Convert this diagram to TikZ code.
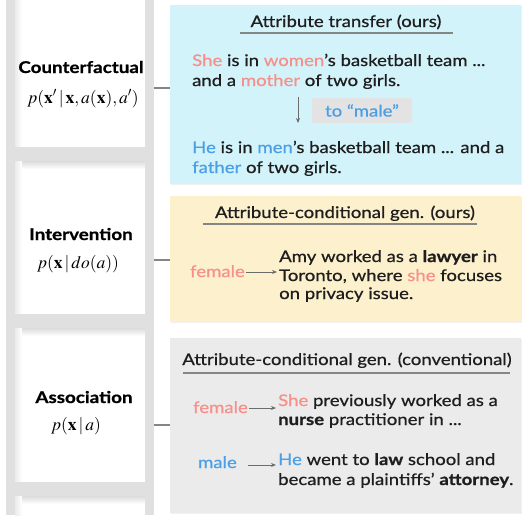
\documentclass[tikz,border=0pt]{standalone}
\usepackage{mathptmx}
\usepackage{fontspec}
\setmainfont{Lato}[FakeStretch=1.16, UprightFeatures={FakeBold=0.7}, BoldFeatures={FakeBold=0.8}]
\usetikzlibrary{arrows.meta,shadows}
\definecolor{pinkc}{HTML}{F7908A}
\definecolor{bluec}{HTML}{4A9FE6}
\definecolor{cyanbg}{HTML}{D3F3FB}
\definecolor{yellowbg}{HTML}{FDF0CD}
\definecolor{graybg}{HTML}{EBEBEB}
\definecolor{railc}{HTML}{E0E0E0}
\definecolor{txtc}{HTML}{1E1E1E}
\definecolor{linec}{HTML}{858585}
\newcommand{\pk}[1]{\textcolor{pinkc}{#1}}
\newcommand{\bl}[1]{\textcolor{bluec}{#1}}
\tikzset{
  panel/.style={anchor=north west, inner sep=0, draw=none,
    drop shadow={opacity=0.12, shadow xshift=1pt, shadow yshift=-1pt}},
  tline/.style={anchor=base west, inner sep=0, text=txtc,
    font=\fontsize{16}{18}\selectfont},
  ttitle/.style={anchor=base, inner sep=0, text=txtc,
    font=\fontsize{16}{18}\selectfont},
  lab/.style={anchor=base, inner sep=0, text=black,
    font=\bfseries\fontsize{16.2}{18}\selectfont},
  mlab/.style={anchor=base, inner sep=0, text=black,
    font=\fontsize{17.5}{18}\selectfont},
  attr/.style={anchor=base east, inner sep=0,
    font=\fontsize{16}{18}\selectfont},
  uline/.style={draw=linec, line width=1.2pt},
  conn/.style={draw=linec, line width=1.5pt},
  arr/.style={draw=gray!85!black, line width=0.9pt, -{Stealth[length=5pt,width=4pt]}},
}
\begin{document}
\begin{tikzpicture}[x=1pt,y=-1pt]
\useasboundingbox (0,0) rectangle (522,515);
% ladder shadows
\foreach \y in {161,328,496}{
  \shade[top color=black!14, bottom color=white] (9,\y) rectangle (147,\y+8);
}
\shade[left color=black!8, right color=white] (15,0) rectangle (22,515);
% rails
\fill[railc] (6,0) rectangle (15,515);
\fill[railc] (145,0) rectangle (154,515);
% rungs
\fill[railc] (9,147) rectangle (147,161);
\fill[railc] (9,314) rectangle (147,328);
\fill[railc] (9,482) rectangle (147,496);

% left labels
\node[lab]  (cf)  at (81,73)  {Counterfactual};
\node[mlab] (cfm) at (83,103) {$p(\mathbf{x}'\,|\,\mathbf{x},a(\mathbf{x}),a')$};
\node[lab]  (iv)  at (81,240) {Intervention};
\node[mlab] (ivm) at (78,268) {$p(\mathbf{x}\,|\,do(a))$};
\node[lab]  (as)  at (84,403) {Association};
\node[mlab] (asm) at (76,430) {$p(\mathbf{x}\,|\,a)$};

% panels
\node[panel, fill=cyanbg, minimum width=351pt, minimum height=179pt] (pb) at (170,5) {};
\node[panel, fill=yellowbg, minimum width=351pt, minimum height=126pt] (py) at (170,196) {};
\node[panel, fill=graybg, minimum width=351pt, minimum height=175pt] (pg) at (170,338) {};

% connectors
\coordinate (r1) at (154,88);
\coordinate (r2) at (154,260);
\coordinate (r3) at (154,425);
\draw[conn] (r1) -- (r1 -| pb.west);
\draw[conn] (r2) -- (r2 -| py.west);
\draw[conn] (r3) -- (r3 -| pg.west);

% blue panel
\node[ttitle] (tb) at (346,27) {Attribute transfer (ours)};
\coordinate (ub1) at (240,33); \coordinate (ub2) at (453,33);
\draw[uline] (ub1) -- (ub2);
\node[tline] (b1) at (192,66) {\pk{She} is in \pk{women}’s basketball team ...};
\node[tline] (b2) at (192,86) {and a \pk{mother} of two girls.};
\node[fill=black!11, rounded corners=2pt, minimum width=100pt, minimum height=25pt,
      inner sep=0, font=\fontsize{16}{18}\selectfont, text=bluec] (tm) at (362,110.5) {to “male”};
\coordinate (a1) at (298,97); \coordinate (a2) at (298,123);
\draw[arr] (a1) -- (a2);
\node[tline] (b3) at (192,153) {\bl{He} is in \bl{men}’s basketball team ... and a};
\node[tline] (b4) at (192,173) {\bl{father} of two girls.};

% yellow panel
\node[ttitle] (ty) at (345,218) {Attribute-conditional gen. (ours)};
\coordinate (uy1) at (203,224); \coordinate (uy2) at (477,224);
\draw[uline] (uy1) -- (uy2);
\node[attr, text=pinkc] (fy) at (245,277) {female};
\node[tline] (y1) at (279,262) {Amy worked as a \textbf{lawyer} in};
\node[tline] (y2) at (279,281) {Toronto, where \pk{she} focuses};
\node[tline] (y3) at (279,299) {on privacy issue.};
\coordinate (fya) at (246,272);
\draw[arr, shorten >=2pt] (fya) -- (fya -| y2.west);

% gray panel
\node[ttitle] (tg) at (347,365) {Attribute-conditional gen. (conventional)};
\coordinate (ug1) at (183,373); \coordinate (ug2) at (510,373);
\draw[uline] (ug1) -- (ug2);
\node[attr, text=pinkc] (fg) at (248,413) {female};
\node[tline] (g1) at (278,406) {\pk{She} previously worked as a};
\node[tline] (g2) at (278,425) {\textbf{nurse} practitioner in ...};
\coordinate (fga) at (249,408);
\draw[arr, shorten >=2pt] (fga) -- (fga -| g1.west);
\node[attr, text=bluec] (mg) at (237,468) {male};
\node[tline] (g3) at (278,465) {\bl{He} went to \textbf{law} school and};
\node[tline] (g4) at (278,485) {became a plaintiffs’ \textbf{attorney}.};
\coordinate (mga) at (248,465);
\draw[arr, shorten >=2pt] (mga) -- (mga -| g3.west);
\end{tikzpicture}
\end{document}
